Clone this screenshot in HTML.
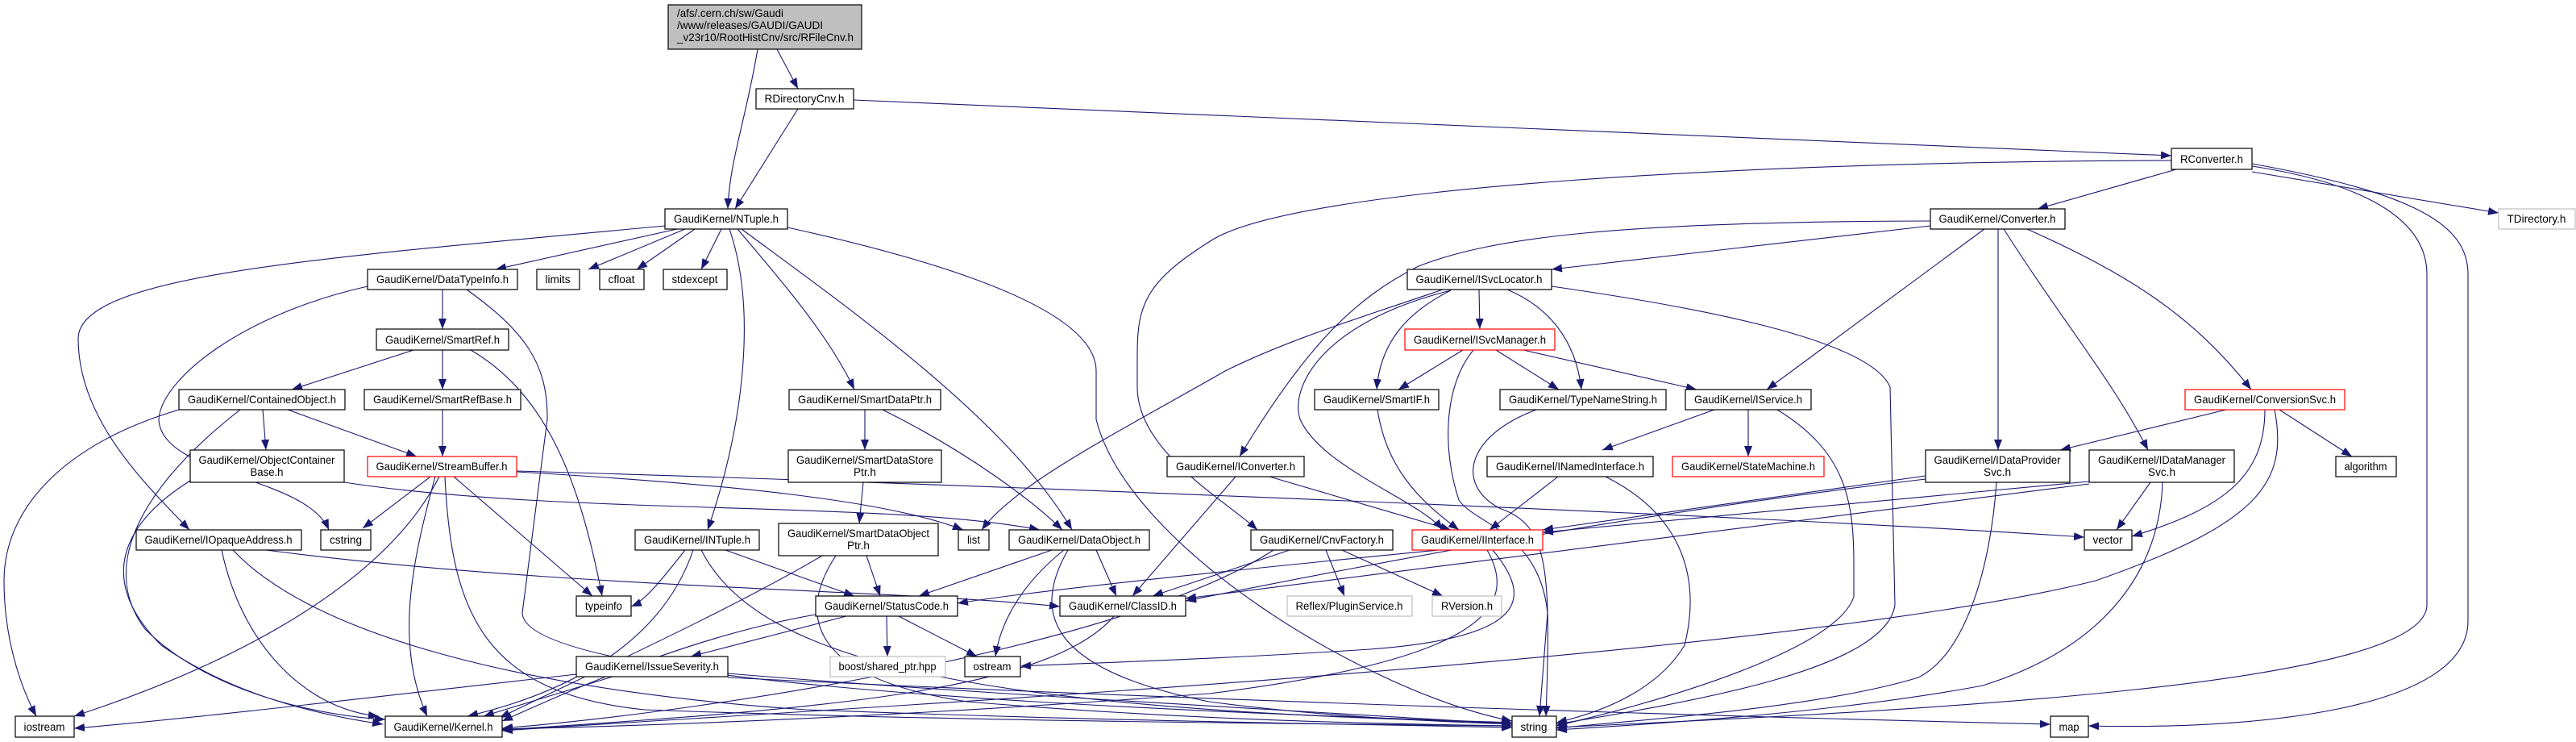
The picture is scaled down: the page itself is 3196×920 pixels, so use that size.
<!DOCTYPE html>
<html><head><meta charset="utf-8"><style>
html,body{margin:0;padding:0;background:#fff;}
svg{display:block}
text{font-family:"Liberation Sans",sans-serif;font-size:14px;fill:#000}
.n{fill:#fff;stroke:#000;stroke-width:1.2}
.r{fill:#fff;stroke:#f00;stroke-width:1.2}
.g{fill:#fff;stroke:#bfbfbf;stroke-width:1.2}
.e{fill:none;stroke:#191970;stroke-width:1.1}
</style></head><body>
<svg width="3196" height="920" viewBox="0 0 3196 920" xmlns="http://www.w3.org/2000/svg">
<defs><marker id="a" markerUnits="userSpaceOnUse" markerWidth="14" markerHeight="10" refX="13" refY="5" orient="auto"><path d="M0,0 L13,5 L0,10 z" fill="#191970"/></marker></defs>
<g class="e" marker-end="url(#a)">
<path d="M940 61 C925 150,905 200,903 259"/>
<path d="M964 61 L990 110"/>
<path d="M990 135 L912 259"/>
<path d="M1059 124 L2694 193"/>
<path d="M2700 210 L2528 259"/>
<path d="M2794 213 L3100 264"/>
<path d="M2794 206 C2950 230,3011 280,3011 340 L3011 750 C3011 850,2400 880,1931 902"/>
<path d="M2794 203 C3000 240,3062 280,3062 340 L3062 770 C3062 880,2800 905,2591 900"/>
<path d="M2694 199 C2200 200,1600 230,1500 300 C1420 350,1411 380,1411 440 L1411 480 C1411 560,1520 620,1560 657"/>
<path d="M2395 274 C2000 275,1850 295,1760 330 C1680 370,1620 430,1538 566"/>
<path d="M2395 280 L1925 334"/>
<path d="M2462 284 L2192 483"/>
<path d="M2479 284 L2479 558"/>
<path d="M2486 284 C2560 400,2620 470,2665 558"/>
<path d="M2515 284 C2640 340,2720 390,2793 483"/>
<path d="M1835 359 L1836 408"/>
<path d="M1790 359 C1700 390,1600 420,1520 460 C1380 540,1260 600,1218 657"/>
<path d="M1800 360 C1640 400,1600 480,1613 520 C1640 580,1760 620,1790 657"/>
<path d="M1800 360 C1740 390,1712 430,1708 483"/>
<path d="M1870 359 C1920 380,1955 420,1962 483"/>
<path d="M1925 355 C2100 380,2320 420,2345 480 L2351 750 C2340 830,2100 870,1931 898"/>
<path d="M1815 434 L1735 483"/>
<path d="M1856 434 L1934 483"/>
<path d="M1890 434 L2105 483"/>
<path d="M1828 434 C1790 480,1790 560,1810 620 C1830 650,1910 660,1920 760 L1910 888"/>
<path d="M1709 508 C1720 580,1760 620,1810 657"/>
<path d="M1906 508 C1820 540,1805 600,1860 630 C1920 650,1925 700,1918 888"/>
<path d="M2127 508 L1988 558"/>
<path d="M2169 508 L2169 566"/>
<path d="M2205 508 C2290 560,2300 620,2300 700 L2300 740 C2280 800,2100 860,1931 900"/>
<path d="M1933 591 L1848 657"/>
<path d="M1992 591 C2090 640,2110 720,2090 800 C2060 850,2000 880,1931 896"/>
<path d="M2389 590 L1914 657"/>
<path d="M2477 598 C2470 700,2440 810,2380 840 C2250 880,2000 895,1931 903"/>
<path d="M2592 597 L1914 660"/>
<path d="M2592 600 L1471 742"/>
<path d="M2668 598 L2626 657"/>
<path d="M2683 598 C2680 700,2620 800,2460 850 C2300 880,2100 895,1931 905"/>
<path d="M2762 508 L2556 558"/>
<path d="M2810 508 C2810 590,2760 630,2645 665"/>
<path d="M2828 508 L2918 566"/>
<path d="M2822 508 C2840 600,2800 650,2600 720 C2200 820,1000 880,623 906"/>
<path d="M1533 591 L1405 739"/>
<path d="M1575 591 L1800 657"/>
<path d="M1785 682 C1600 700,1300 730,1188 748"/>
<path d="M1600 682 L1430 739"/>
<path d="M1580 682 C1400 800,900 880,623 903"/>
<path d="M1645 682 L1668 739"/>
<path d="M1665 682 L1790 739"/>
<path d="M1845 682 C1890 760,1820 820,1500 860 C1100 890,800 900,623 904"/>
<path d="M1852 682 C1900 740,1900 790,1700 805 C1500 818,1350 822,1266 826"/>
<path d="M2389 594 C2000 640,1700 700,1471 745"/>
<path d="M1100 764 L1101 814"/>
<path d="M1115 764 L1212 814"/>
<path d="M1050 764 L857 814"/>
<path d="M1012 762 C850 790,700 860,623 894"/>
<path d="M903 835 C1200 860,1600 880,1876 898"/>
<path d="M903 840 C1500 870,2200 890,2544 898"/>
<path d="M760 839 L600 888"/>
<path d="M715 836 C500 860,250 890,92 903"/>
<path d="M1305 682 L1140 739"/>
<path d="M1360 682 L1385 739"/>
<path d="M1320 682 C1260 730,1240 780,1235 814"/>
<path d="M1325 682 C1280 760,1300 830,1500 870 C1650 890,1800 895,1876 898"/>
<path d="M1382 764 C1300 860,1000 880,623 905"/>
<path d="M1073 508 L1073 558"/>
<path d="M1095 508 C1200 560,1280 620,1318 657"/>
<path d="M1071 598 L1066 649"/>
<path d="M1075 689 L1092 739"/>
<path d="M1020 689 C900 760,700 850,620 890"/>
<path d="M1037 689 C990 760,1000 840,1200 870 C1500 895,1750 898,1876 900"/>
<path d="M850 682 C820 720,800 745,783 752"/>
<path d="M860 682 C820 800,700 860,580 888"/>
<path d="M870 682 C940 820,1200 880,1876 896"/>
<path d="M900 682 L1060 739"/>
<path d="M825 280 C400 320,97 340,97 420 C97 520,180 600,235 657"/>
<path d="M840 284 L615 334"/>
<path d="M850 284 L730 334"/>
<path d="M862 284 L790 334"/>
<path d="M895 284 L870 334"/>
<path d="M905 284 C938 380,925 520,878 657"/>
<path d="M915 284 C980 360,1030 420,1060 483"/>
<path d="M920 284 C1050 380,1250 520,1330 657"/>
<path d="M977 282 C1150 320,1360 380,1360 460 L1360 520 C1400 680,1700 860,1876 894"/>
<path d="M549 359 L549 408"/>
<path d="M456 355 C300 390,200 470,197 520 C200 590,380 590,408 657"/>
<path d="M579 359 C650 410,680 450,679 520 L648 760 C650 850,1400 880,1876 896"/>
<path d="M513 434 L362 483"/>
<path d="M549 434 L549 483"/>
<path d="M584 434 C680 490,720 600,747 739"/>
<path d="M222 508 C80 550,5 630,5 720 C5 800,30 860,45 888"/>
<path d="M298 508 C180 600,120 700,180 780 C260 860,400 888,478 892"/>
<path d="M326 508 L330 558"/>
<path d="M357 508 L517 566"/>
<path d="M549 508 L549 566"/>
<path d="M236 596 C150 650,120 720,200 800 C300 870,420 890,475 898"/>
<path d="M427 598 C700 640,1100 620,1290 657"/>
<path d="M534 591 L450 655"/>
<path d="M545 591 C480 720,300 820,92 888"/>
<path d="M540 591 C510 700,490 800,530 888"/>
<path d="M552 591 C560 760,600 860,800 880 C1200 895,1700 898,1876 900"/>
<path d="M563 591 L735 739"/>
<path d="M641 585 C900 600,1100 620,1195 657"/>
<path d="M641 584 C1200 600,2200 640,2586 666"/>
<path d="M275 682 C300 800,380 880,470 888"/>
<path d="M289 682 C400 800,700 860,1000 880 C1400 895,1700 898,1876 902"/>
<path d="M330 682 C700 730,1100 730,1315 752"/>
</g>
<g>
<rect x="829" y="6" width="240" height="55" fill="#bfbfbf" stroke="#000" stroke-width="1.2"/>
<text x="840" y="21" textLength="132" lengthAdjust="spacingAndGlyphs">/afs/.cern.ch/sw/Gaudi</text>
<text x="840" y="36" textLength="181" lengthAdjust="spacingAndGlyphs">/www/releases/GAUDI/GAUDI</text>
<text x="840" y="51" textLength="219" lengthAdjust="spacingAndGlyphs">_v23r10/RootHistCnv/src/RFileCnv.h</text>
</g>
<g text-anchor="middle">
<rect class="n" x="938" y="110" width="121" height="25"/><text x="998" y="127" textLength="99" lengthAdjust="spacingAndGlyphs">RDirectoryCnv.h</text>
<rect class="n" x="2694" y="184" width="100" height="26"/><text x="2744" y="202" textLength="78" lengthAdjust="spacingAndGlyphs">RConverter.h</text>
<rect class="n" x="825" y="259" width="152" height="25"/><text x="901" y="276" textLength="130" lengthAdjust="spacingAndGlyphs">GaudiKernel/NTuple.h</text>
<rect class="n" x="2395" y="259" width="167" height="25"/><text x="2478" y="276" textLength="145" lengthAdjust="spacingAndGlyphs">GaudiKernel/Converter.h</text>
<rect class="g" x="3100" y="259" width="95" height="25"/><text x="3147" y="276" textLength="73" lengthAdjust="spacingAndGlyphs">TDirectory.h</text>
<rect class="n" x="456" y="334" width="186" height="25"/><text x="549" y="351" textLength="164" lengthAdjust="spacingAndGlyphs">GaudiKernel/DataTypeInfo.h</text>
<rect class="n" x="666" y="334" width="53" height="25"/><text x="692" y="351" textLength="31" lengthAdjust="spacingAndGlyphs">limits</text>
<rect class="n" x="744" y="334" width="55" height="25"/><text x="771" y="351" textLength="33" lengthAdjust="spacingAndGlyphs">cfloat</text>
<rect class="n" x="823" y="334" width="79" height="25"/><text x="862" y="351" textLength="57" lengthAdjust="spacingAndGlyphs">stdexcept</text>
<rect class="n" x="1746" y="334" width="179" height="25"/><text x="1835" y="351" textLength="157" lengthAdjust="spacingAndGlyphs">GaudiKernel/ISvcLocator.h</text>
<rect class="n" x="467" y="408" width="164" height="26"/><text x="549" y="426" textLength="142" lengthAdjust="spacingAndGlyphs">GaudiKernel/SmartRef.h</text>
<rect class="r" x="1743" y="408" width="186" height="26"/><text x="1836" y="426" textLength="164" lengthAdjust="spacingAndGlyphs">GaudiKernel/ISvcManager.h</text>
<rect class="n" x="222" y="483" width="206" height="25"/><text x="325" y="500" textLength="184" lengthAdjust="spacingAndGlyphs">GaudiKernel/ContainedObject.h</text>
<rect class="n" x="452" y="483" width="194" height="25"/><text x="549" y="500" textLength="172" lengthAdjust="spacingAndGlyphs">GaudiKernel/SmartRefBase.h</text>
<rect class="n" x="979" y="483" width="188" height="25"/><text x="1073" y="500" textLength="166" lengthAdjust="spacingAndGlyphs">GaudiKernel/SmartDataPtr.h</text>
<rect class="n" x="1631" y="483" width="154" height="25"/><text x="1708" y="500" textLength="132" lengthAdjust="spacingAndGlyphs">GaudiKernel/SmartIF.h</text>
<rect class="n" x="1861" y="483" width="206" height="25"/><text x="1964" y="500" textLength="184" lengthAdjust="spacingAndGlyphs">GaudiKernel/TypeNameString.h</text>
<rect class="n" x="2091" y="483" width="156" height="25"/><text x="2169" y="500" textLength="134" lengthAdjust="spacingAndGlyphs">GaudiKernel/IService.h</text>
<rect class="r" x="2711" y="483" width="198" height="25"/><text x="2810" y="500" textLength="176" lengthAdjust="spacingAndGlyphs">GaudiKernel/ConversionSvc.h</text>
<rect class="n" x="236" y="558" width="191" height="40"/><text x="331" y="575" textLength="169" lengthAdjust="spacingAndGlyphs">GaudiKernel/ObjectContainer</text><text x="331" y="590" textLength="41" lengthAdjust="spacingAndGlyphs">Base.h</text>
<rect class="r" x="456" y="566" width="185" height="25"/><text x="548" y="583" textLength="163" lengthAdjust="spacingAndGlyphs">GaudiKernel/StreamBuffer.h</text>
<rect class="n" x="978" y="558" width="190" height="40"/><text x="1073" y="575" textLength="170" lengthAdjust="spacingAndGlyphs">GaudiKernel/SmartDataStore</text><text x="1073" y="590" textLength="28" lengthAdjust="spacingAndGlyphs">Ptr.h</text>
<rect class="n" x="1448" y="566" width="170" height="25"/><text x="1533" y="583" textLength="148" lengthAdjust="spacingAndGlyphs">GaudiKernel/IConverter.h</text>
<rect class="n" x="1845" y="566" width="206" height="25"/><text x="1948" y="583" textLength="184" lengthAdjust="spacingAndGlyphs">GaudiKernel/INamedInterface.h</text>
<rect class="r" x="2075" y="566" width="188" height="25"/><text x="2169" y="583" textLength="166" lengthAdjust="spacingAndGlyphs">GaudiKernel/StateMachine.h</text>
<rect class="n" x="2389" y="558" width="179" height="40"/><text x="2478" y="575" textLength="157" lengthAdjust="spacingAndGlyphs">GaudiKernel/IDataProvider</text><text x="2478" y="590" textLength="34" lengthAdjust="spacingAndGlyphs">Svc.h</text>
<rect class="n" x="2592" y="558" width="180" height="40"/><text x="2682" y="575" textLength="158" lengthAdjust="spacingAndGlyphs">GaudiKernel/IDataManager</text><text x="2682" y="590" textLength="34" lengthAdjust="spacingAndGlyphs">Svc.h</text>
<rect class="n" x="2898" y="566" width="75" height="25"/><text x="2935" y="583" textLength="53" lengthAdjust="spacingAndGlyphs">algorithm</text>
<rect class="n" x="169" y="657" width="205" height="25"/><text x="271" y="674" textLength="183" lengthAdjust="spacingAndGlyphs">GaudiKernel/IOpaqueAddress.h</text>
<rect class="n" x="398" y="657" width="62" height="25"/><text x="429" y="674" textLength="40" lengthAdjust="spacingAndGlyphs">cstring</text>
<rect class="n" x="788" y="657" width="154" height="25"/><text x="865" y="674" textLength="132" lengthAdjust="spacingAndGlyphs">GaudiKernel/INTuple.h</text>
<rect class="n" x="966" y="649" width="198" height="40"/><text x="1065" y="666" textLength="176" lengthAdjust="spacingAndGlyphs">GaudiKernel/SmartDataObject</text><text x="1065" y="681" textLength="28" lengthAdjust="spacingAndGlyphs">Ptr.h</text>
<rect class="n" x="1189" y="657" width="38" height="25"/><text x="1208" y="674" textLength="16" lengthAdjust="spacingAndGlyphs">list</text>
<rect class="n" x="1252" y="657" width="174" height="25"/><text x="1339" y="674" textLength="152" lengthAdjust="spacingAndGlyphs">GaudiKernel/DataObject.h</text>
<rect class="n" x="1552" y="657" width="176" height="25"/><text x="1640" y="674" textLength="154" lengthAdjust="spacingAndGlyphs">GaudiKernel/CnvFactory.h</text>
<rect class="r" x="1752" y="657" width="162" height="25"/><text x="1833" y="674" textLength="140" lengthAdjust="spacingAndGlyphs">GaudiKernel/IInterface.h</text>
<rect class="n" x="2586" y="657" width="59" height="25"/><text x="2615" y="674" textLength="37" lengthAdjust="spacingAndGlyphs">vector</text>
<rect class="n" x="715" y="739" width="68" height="25"/><text x="749" y="756" textLength="46" lengthAdjust="spacingAndGlyphs">typeinfo</text>
<rect class="n" x="1012" y="739" width="176" height="25"/><text x="1100" y="756" textLength="154" lengthAdjust="spacingAndGlyphs">GaudiKernel/StatusCode.h</text>
<rect class="n" x="1315" y="739" width="156" height="25"/><text x="1393" y="756" textLength="134" lengthAdjust="spacingAndGlyphs">GaudiKernel/ClassID.h</text>
<rect class="g" x="1597" y="739" width="155" height="25"/><text x="1674" y="756" textLength="133" lengthAdjust="spacingAndGlyphs">Reflex/PluginService.h</text>
<rect class="g" x="1777" y="739" width="86" height="25"/><text x="1820" y="756" textLength="64" lengthAdjust="spacingAndGlyphs">RVersion.h</text>
<rect class="n" x="715" y="814" width="188" height="25"/><text x="809" y="831" textLength="166" lengthAdjust="spacingAndGlyphs">GaudiKernel/IssueSeverity.h</text>
<rect class="g" x="1030" y="814" width="143" height="25"/><text x="1101" y="831" textLength="121" lengthAdjust="spacingAndGlyphs">boost/shared_ptr.hpp</text>
<rect class="n" x="1197" y="814" width="69" height="25"/><text x="1231" y="831" textLength="47" lengthAdjust="spacingAndGlyphs">ostream</text>
<rect class="n" x="19" y="888" width="73" height="26"/><text x="55" y="906" textLength="51" lengthAdjust="spacingAndGlyphs">iostream</text>
<rect class="n" x="478" y="888" width="145" height="26"/><text x="550" y="906" textLength="123" lengthAdjust="spacingAndGlyphs">GaudiKernel/Kernel.h</text>
<rect class="n" x="1876" y="888" width="55" height="26"/><text x="1903" y="906" textLength="33" lengthAdjust="spacingAndGlyphs">string</text>
<rect class="n" x="2544" y="888" width="47" height="26"/><text x="2567" y="906" textLength="25" lengthAdjust="spacingAndGlyphs">map</text>
</g>
</svg>
</body></html>
